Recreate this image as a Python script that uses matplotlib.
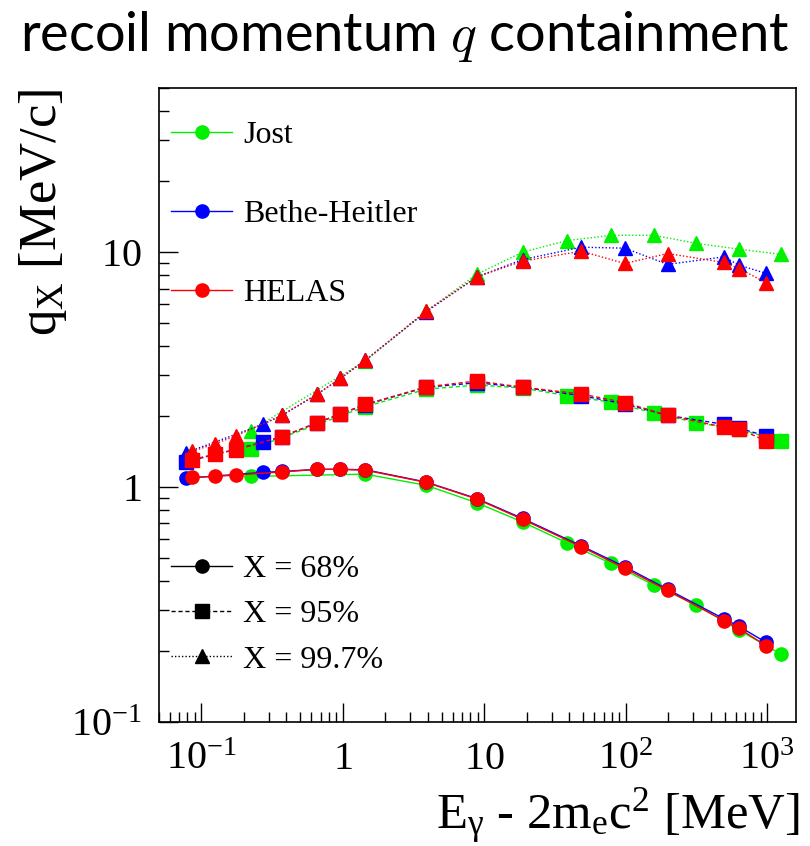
import matplotlib
matplotlib.use('Agg')
import matplotlib.pyplot as plt
from matplotlib.lines import Line2D
from matplotlib.ticker import FixedLocator, FixedFormatter, LogLocator, NullFormatter

plt.rcParams['font.family'] = 'Liberation Serif'
plt.rcParams['mathtext.fontset'] = 'custom'
plt.rcParams['mathtext.rm'] = 'Liberation Serif'
plt.rcParams['mathtext.it'] = 'Liberation Serif:italic'
plt.rcParams['mathtext.bf'] = 'Liberation Serif:bold'

# Data: E_gamma - 2 m_e c^2 [MeV] and q_X [MeV/c]
JOST_E = [0.224, 1.45, 3.9, 8.9, 18.7, 38.5, 79, 158, 316, 634, 1262]
JOST_68 = [1.11, 1.135, 1.017, 0.857, 0.71, 0.579, 0.473, 0.383, 0.315,
           0.246, 0.194]
JOST_95 = [1.45, 2.20, 2.61, 2.72, 2.64, 2.45, 2.30, 2.07, 1.88, 1.76, 1.57]
JOST_997 = [1.74, 3.45, 5.6, 8.06, 10.0, 11.2, 11.8, 11.8, 10.9, 10.3, 9.78]

BH_E = [0.078, 0.273, 0.373, 0.664, 0.965, 1.45, 3.9, 8.9, 18.7, 48.6, 98.7,
        198, 495, 634, 986]
BH_68 = [1.09, 1.155, 1.165, 1.19, 1.19, 1.185, 1.05, 0.893, 0.735, 0.562,
         0.458, 0.367, 0.275, 0.255, 0.218]
BH_95 = [1.28, 1.55, 1.64, 1.88, 2.05, 2.24, 2.66, 2.78, 2.66, 2.45, 2.26,
         2.02, 1.85, 1.78, 1.65]
BH_997 = [1.40, 1.85, 2.02, 2.49, 2.90, 3.47, 5.58, 7.85, 9.3, 10.5, 10.4,
          8.87, 9.55, 8.8, 8.12]

HELAS_E = [0.0866, 0.126, 0.175, 0.373, 0.664, 0.965, 1.45, 3.9, 8.9, 18.7,
           48.6, 98.7, 198, 495, 634, 986]
HELAS_68 = [1.10, 1.11, 1.125, 1.16, 1.19, 1.19, 1.18, 1.047, 0.889, 0.729,
            0.557, 0.451, 0.363, 0.27, 0.25, 0.211]
HELAS_95 = [1.31, 1.38, 1.44, 1.64, 1.88, 2.05, 2.25, 2.67, 2.83, 2.66, 2.49,
            2.29, 2.02, 1.80, 1.77, 1.57]
HELAS_997 = [1.42, 1.53, 1.65, 2.02, 2.49, 2.90, 3.47, 5.62, 7.85, 9.16, 10.1,
             8.95, 9.87, 9.04, 8.52, 7.4]

GENERATORS = ['Jost', 'Bethe-Heitler', 'HELAS']
COLOURS = ['#00f000', '#0000ff', '#ff0000']
LEVELS = ['X = 68%', 'X = 95%', 'X = 99.7%']

X_TICKS = [0.1, 1, 10, 100, 1000]
X_TICK_LABELS = ['$10^{-1}$', '$1$', '$10$', '$10^{2}$', '$10^{3}$']
Y_TICKS = [0.1, 1, 10]
Y_TICK_LABELS = ['$10^{-1}$', '$1$', '$10$']

# level styles: (marker, linestyle)
STYLES = [('o', '-'), ('s', (0, (3, 2))), ('^', (0, (1, 1.5)))]
MS = 9.5

fig = plt.figure(figsize=(8.1, 8.46), dpi=100)
ax = fig.add_axes([0.1957, 0.1466, 0.787, 0.7494])

series = [(JOST_E, [JOST_68, JOST_95, JOST_997]),
          (BH_E, [BH_68, BH_95, BH_997]),
          (HELAS_E, [HELAS_68, HELAS_95, HELAS_997])]

for i, (energies, levels) in enumerate(series):
    for (marker, style), values in zip(STYLES, levels):
        ax.plot(energies, values, color=COLOURS[i], marker=marker, ms=MS,
                mec=COLOURS[i], linestyle=style, linewidth=1.0, zorder=2 + i)

ax.set_xscale('log')
ax.set_yscale('log')
ax.set_xlim(0.05, 1600)
ax.set_ylim(0.1, 50)

ax.xaxis.set_major_locator(FixedLocator(X_TICKS))
ax.xaxis.set_major_formatter(FixedFormatter(X_TICK_LABELS))
ax.yaxis.set_major_locator(FixedLocator(Y_TICKS))
ax.yaxis.set_major_formatter(FixedFormatter(Y_TICK_LABELS))
ax.xaxis.set_minor_locator(LogLocator(base=10, subs=range(2, 10), numticks=20))
ax.yaxis.set_minor_locator(LogLocator(base=10, subs=range(2, 10), numticks=20))
ax.xaxis.set_minor_formatter(NullFormatter())
ax.yaxis.set_minor_formatter(NullFormatter())

ax.tick_params(which='both', direction='in', top=False, right=False,
               width=1.0, labelsize=29)
ax.tick_params(which='major', length=13.5)
ax.tick_params(which='minor', length=7)
ax.tick_params(axis='x', which='major', pad=34)
ax.tick_params(axis='y', which='major', pad=12)
for lbl in ax.get_xticklabels():
    lbl.set_verticalalignment('baseline')
for spine in ax.spines.values():
    spine.set_linewidth(1.2)

ax.set_ylabel(r'q$_\mathrm{X}$ [MeV/c]', fontsize=38, loc='top',
              family='Liberation Serif')
ax.yaxis.set_label_coords(-0.14, 1.0)
ax.set_xlabel(r'E$_\mathrm{\gamma}$ - 2m$_\mathrm{e}$c$^\mathrm{2}$ [MeV]',
              fontsize=36.5, loc='right', family='Liberation Serif')
ax.xaxis.set_label_coords(1.005, -0.103)

fig.text(0.5, 1 - 36 / 846, 'recoil momentum $q$ containment', ha='center',
         va='center', fontsize=39, family='Lato', math_fontfamily='cm')

# legends
gen_handles = [Line2D([], [], color=c, marker='o', ms=MS, linewidth=1.0)
               for c in COLOURS]
leg1 = ax.legend(gen_handles, GENERATORS, loc='upper left',
                 bbox_to_anchor=(0.02, 0.948), frameon=False, fontsize=23,
                 handlelength=1.9, handletextpad=0.35, labelspacing=1.55,
                 borderpad=0, borderaxespad=0)
ax.add_artist(leg1)

lev_handles = [Line2D([], [], color='black', marker=m, ms=MS, linestyle=s,
                      linewidth=1.0) for m, s in STYLES]
ax.legend(lev_handles, LEVELS, loc='upper left', bbox_to_anchor=(0.02, 0.264),
          frameon=False, fontsize=23, handlelength=1.9, handletextpad=0.35,
          labelspacing=0.5, borderpad=0, borderaxespad=0)

fig.savefig('out.png', dpi=100)
